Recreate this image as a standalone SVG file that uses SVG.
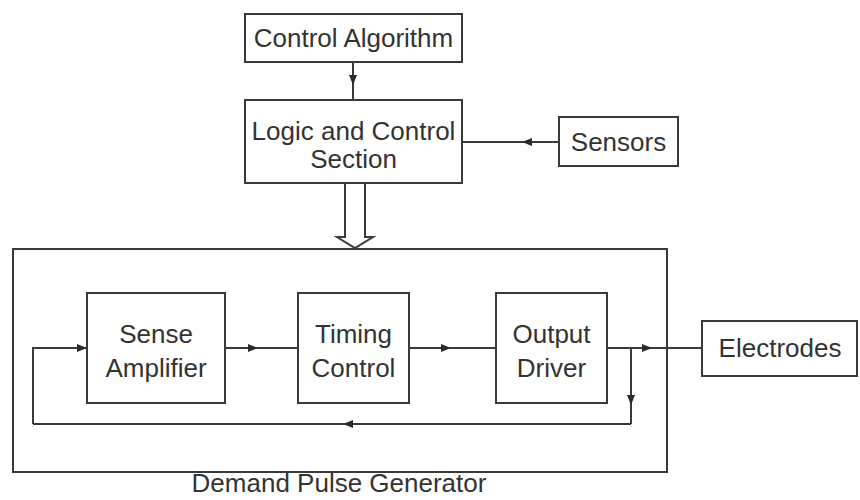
<svg xmlns="http://www.w3.org/2000/svg" width="860" height="500" viewBox="0 0 860 500">
<style>
.box{fill:#fff;stroke:#3a3a3a;stroke-width:2}
.ln{fill:none;stroke:#3a3a3a;stroke-width:2}
.t{font-family:"Liberation Sans",Arial,sans-serif;font-size:26px;fill:#333;text-anchor:middle}
</style>
<defs>
<marker id="ah" viewBox="0 0 10 10" refX="5" refY="5" markerWidth="10" markerHeight="10" markerUnits="userSpaceOnUse" orient="auto">
<path d="M0,1 L10,5 L0,9 Z" fill="#2a2a2a"/>
</marker>
<marker id="ae" viewBox="0 0 10 10" refX="10" refY="5" markerWidth="10" markerHeight="10" markerUnits="userSpaceOnUse" orient="auto">
<path d="M0,1 L10,5 L0,9 Z" fill="#2a2a2a"/>
</marker>
</defs>
<rect width="860" height="500" fill="#fff"/>
<g id="connectors">
<path class="ln" d="M353 62 L353 80 L353 100" marker-mid="url(#ah)"/>
<path class="ln" d="M559 142 L527 142 L462 142" marker-mid="url(#ah)"/>
<path class="ln" d="M225 348 L253 348 L298 348" marker-mid="url(#ah)"/>
<path class="ln" d="M409 348 L446 348 L496 348" marker-mid="url(#ah)"/>
<path class="ln" d="M607 348 L647 348 L702 348" marker-mid="url(#ah)"/>
<path class="ln" d="M631 348 L631 400 L631 424" marker-mid="url(#ah)"/>
<path class="ln" d="M631 424 L348 424 L33 424" marker-mid="url(#ah)"/>
<path class="ln" d="M33 424 L33 348 L87 348" marker-end="url(#ae)"/>
<polygon class="box" points="345,183 345,237 337,237 355,248 373,237 365,237 365,183"/>
</g>
<g id="demand-pulse-generator">
<rect x="13" y="249" width="654" height="223" fill="none" stroke="#3a3a3a" stroke-width="2"/>
<text class="t" x="339" y="492">Demand Pulse Generator</text>
</g>
<g id="control-algorithm">
<rect class="box" x="245" y="14" width="217" height="48"/>
<text class="t" x="353.5" y="47">Control Algorithm</text>
</g>
<g id="logic-control">
<rect class="box" x="245" y="100" width="217" height="83"/>
<text class="t" x="353.5" y="140">Logic and Control</text>
<text class="t" x="353.5" y="168">Section</text>
</g>
<g id="sensors">
<rect class="box" x="559" y="117" width="119" height="49"/>
<text class="t" x="618.5" y="151">Sensors</text>
</g>
<g id="sense-amplifier">
<rect class="box" x="87" y="293" width="138" height="110"/>
<text class="t" x="156" y="343">Sense</text>
<text class="t" x="156" y="377">Amplifier</text>
</g>
<g id="timing-control">
<rect class="box" x="298" y="293" width="111" height="110"/>
<text class="t" x="353.5" y="343">Timing</text>
<text class="t" x="353.5" y="377">Control</text>
</g>
<g id="output-driver">
<rect class="box" x="496" y="293" width="111" height="110"/>
<text class="t" x="551.5" y="343">Output</text>
<text class="t" x="551.5" y="377">Driver</text>
</g>
<g id="electrodes">
<rect class="box" x="702" y="321" width="155" height="55"/>
<text class="t" x="780" y="357">Electrodes</text>
</g>
</svg>
